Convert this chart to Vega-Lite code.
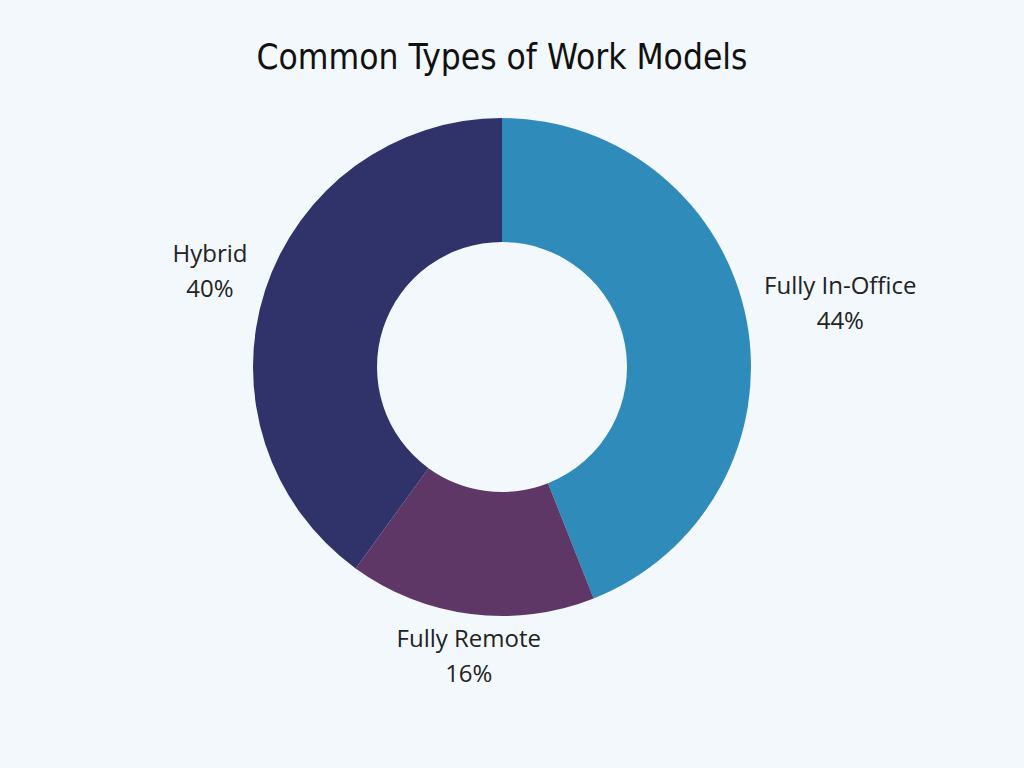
{
  "$schema": "https://vega.github.io/schema/vega-lite/v6.json",
  "autosize": {"type": "none"},
  "padding": {"top": 100, "left": 0, "right": 20, "bottom": 134},
  "width": 1004,
  "height": 534,
  "background": "#f3f8fc",
  "title": {
    "text": "Common Types of Work Models",
    "font": "Liberation Sans Narrow, DejaVu Sans Condensed, Roboto",
    "fontSize": 35,
    "fontWeight": "normal",
    "color": "#111111",
    "anchor": "middle",
    "offset": 24
  },
  "config": {"view": {"stroke": null}},
  "data": {
    "values": [
      {"category": "Fully In-Office", "share": 44, "label": ["Fully In-Office", "44%"]},
      {"category": "Fully Remote", "share": 16, "label": ["Fully Remote", "16%"]},
      {"category": "Hybrid", "share": 40, "label": ["Hybrid", "40%"]}
    ]
  },
  "encoding": {
    "theta": {"field": "share", "type": "quantitative", "stack": true},
    "color": {
      "field": "category",
      "type": "nominal",
      "sort": ["Fully In-Office", "Fully Remote", "Hybrid"],
      "scale": {"domain": ["Fully In-Office", "Fully Remote", "Hybrid"], "range": ["#2e8bba", "#5e3766", "#30336a"]},
      "legend": null
    }
  },
  "layer": [
    {"mark": {"type": "arc", "outerRadius": 249, "innerRadius": 125}},
    {
      "mark": {
        "type": "text",
        "radius": 265,
        "font": "Open Sans",
        "fontSize": 24,
        "lineHeight": 35,
        "align": "center",
        "baseline": {"expr": "datum.category === 'Fully Remote' ? 'top' : 'middle'"},
        "dx": {"expr": "datum.category === 'Hybrid' ? -40 : (datum.category === 'Fully Remote' ? 0 : 78)"},
        "dy": {"expr": "datum.category === 'Fully Remote' ? -2 : -30"}
      },
      "encoding": {
        "text": {"field": "label"},
        "color": {"value": "#222222"}
      }
    }
  ]
}
